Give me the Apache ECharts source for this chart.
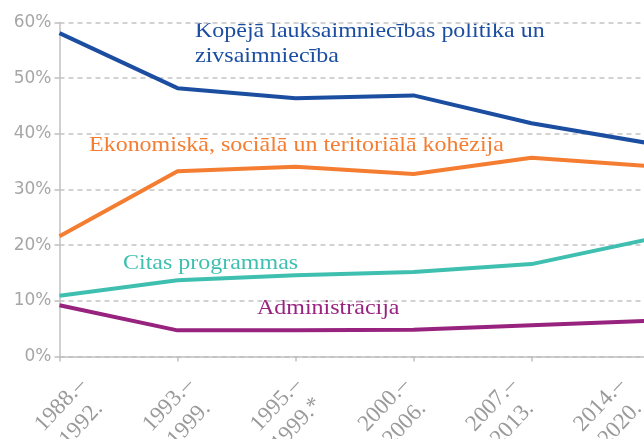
<!DOCTYPE html>
<html>
<head>
<meta charset="utf-8">
<script src="https://cdn.jsdelivr.net/npm/echarts@6/dist/echarts.min.js"></script>
<style>
  html, body { margin: 0; padding: 0; background: #fff; }
  #chart { width: 644px; height: 439px; }
</style>
</head>
<body>
<div id="chart"></div>
<script>
var periods = ['1988.–\n1992.', '1993.–\n1999.', '1995.–\n1999.*', '2000.–\n2006.', '2007.–\n2013.', '2014.–\n2020.'];
var yTicks = [0, 10, 20, 30, 40, 50, 60];

var lauksaimniecibaData = [58.1, 48.2, 46.4, 46.9, 41.9, 38.3];
var kohezijaData = [21.6, 33.3, 34.1, 32.8, 35.7, 34.2];
var citasData = [10.9, 13.7, 14.6, 15.2, 16.6, 21.1];
var administracijaData = [9.2, 4.7, 4.7, 4.8, 5.6, 6.4];

var colBlue = '#1b4ea1';
var colOrange = '#f47d32';
var colTeal = '#3fbfaf';
var colPurple = '#97237f';
var gray = '#c0c0c0';

var myChart = echarts.init(document.getElementById('chart'));

function lineSeries(name, data, color) {
  return {
    name: name,
    type: 'line',
    data: data,
    symbol: 'none',
    lineStyle: { color: color, width: 4 },
    itemStyle: { color: color }
  };
}

// series names written next to their lines (the original font is a bit stretched)
function seriesText(text, x, y, color) {
  return {
    type: 'text', x: x, y: y, scaleX: 1.09,
    style: { text: text, fill: color, font: '22px "Liberation Serif"', lineHeight: 25 }
  };
}

myChart.setOption({
  animation: false,
  grid: [
    { left: 59.5, right: -5.5, top: 22.5, bottom: 82.5, outerBoundsMode: 'none' },
    // this grid only carries the period labels, spaced a little narrower than the ticks
    { left: 71, right: 34, top: 22.5, bottom: 82.5, outerBoundsMode: 'none' }
  ],
  xAxis: [
    {
      type: 'category',
      gridIndex: 0,
      data: periods,
      boundaryGap: false,
      axisLine: { lineStyle: { color: gray, width: 1.5 } },
      axisTick: { show: true, length: 5, lineStyle: { color: gray, width: 1.5 } },
      axisLabel: { show: false }
    },
    {
      type: 'category',
      gridIndex: 1,
      data: periods,
      boundaryGap: false,
      axisLine: { show: false },
      axisTick: { show: false },
      axisLabel: {
        interval: 0,
        rotate: 47,
        align: 'center',
        verticalAlign: 'middle',
        color: '#9a9a9a',
        fontFamily: 'Liberation Serif',
        fontSize: 23,
        lineHeight: 28,
        margin: 58
      }
    }
  ],
  yAxis: [
    {
      type: 'value',
      gridIndex: 0,
      min: yTicks[0],
      max: yTicks[yTicks.length - 1],
      interval: 10,
      axisLine: { show: true, lineStyle: { color: gray, width: 1.5 } },
      axisTick: { show: true, length: 5, lineStyle: { color: gray, width: 1.5 } },
      axisLabel: {
        color: '#a6a6a6',
        fontFamily: 'DejaVu Sans',
        fontSize: 17,
        margin: 8,
        formatter: '{value}%'
      },
      splitLine: { lineStyle: { color: '#c4c4c4', type: [5, 4], width: 1.5 } }
    },
    { type: 'value', gridIndex: 1, min: 0, max: 60, show: false }
  ],
  series: [
    lineSeries('Kopējā lauksaimniecības politika un zivsaimniecība', lauksaimniecibaData, colBlue),
    lineSeries('Ekonomiskā, sociālā un teritoriālā kohēzija', kohezijaData, colOrange),
    lineSeries('Citas programmas', citasData, colTeal),
    lineSeries('Administrācija', administracijaData, colPurple)
  ],
  graphic: [
    seriesText('Kopējā lauksaimniecības politika un\nzivsaimniecība', 195, 19, colBlue),
    seriesText('Ekonomiskā, sociālā un teritoriālā kohēzija', 89, 133, colOrange),
    seriesText('Citas programmas', 123, 251, colTeal),
    seriesText('Administrācija', 257, 296, colPurple)
  ]
});
</script>
</body>
</html>
